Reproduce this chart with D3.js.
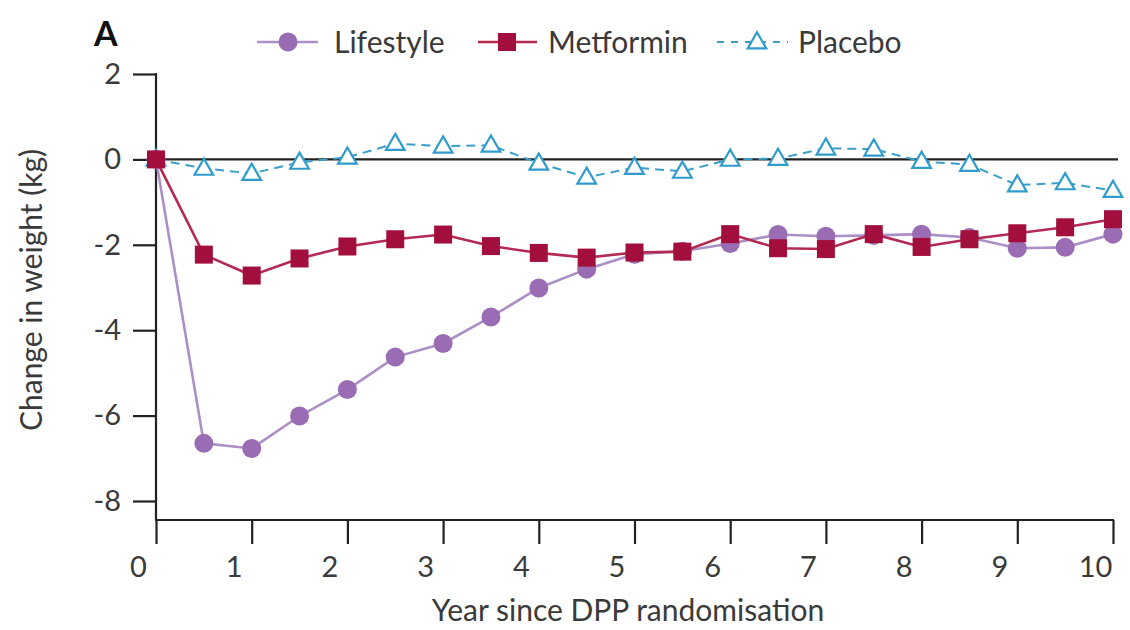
<!DOCTYPE html>
<html>
<head>
<meta charset="utf-8">
<script src="https://cdn.jsdelivr.net/npm/d3@7"></script>
<style>
  body { margin: 0; background: #fff; }
  text { font-family: "Lato", "Open Sans", sans-serif; fill: #3a3a3a; }
</style>
</head>
<body>
<script>
var years = [0, 0.5, 1, 1.5, 2, 2.5, 3, 3.5, 4, 4.5, 5, 5.5, 6, 6.5, 7, 7.5, 8, 8.5, 9, 9.5, 10];
var lifestyle = [0, -6.65, -6.77, -6.01, -5.39, -4.63, -4.31, -3.69, -3.01, -2.57, -2.22, -2.15, -1.97, -1.76, -1.8, -1.78, -1.75, -1.83, -2.08, -2.06, -1.75];
var metformin = [0, -2.23, -2.72, -2.32, -2.04, -1.87, -1.76, -2.03, -2.19, -2.3, -2.18, -2.16, -1.75, -2.08, -2.1, -1.75, -2.05, -1.87, -1.73, -1.59, -1.4];
var placebo = [0, -0.21, -0.33, -0.07, 0.05, 0.37, 0.31, 0.33, -0.09, -0.42, -0.19, -0.28, 0.0, 0.02, 0.26, 0.24, -0.05, -0.12, -0.6, -0.55, -0.73];
var xTicks = [0, 1, 2, 3, 4, 5, 6, 7, 8, 9, 10];
var yTicks = [2, 0, -2, -4, -6, -8];
var seriesNames = ["Lifestyle", "Metformin", "Placebo"];

var svg = d3.select("body").append("svg").attr("width", 1130).attr("height", 630);

var x = d3.scaleLinear().domain([0, 10]).range([156, 1113]);
var y = d3.scaleLinear().domain([-8, 2]).range([501, 74]);
var axisY = 520;

// x axis
var gx = svg.append("g").attr("transform", "translate(0," + axisY + ")")
  .call(d3.axisBottom(x).tickValues(xTicks).tickSize(24).tickSizeOuter(0).tickPadding(12));
gx.select(".domain").attr("stroke", "#222").attr("stroke-width", 2.2).attr("d", "M" + (x(0) - 1) + ",0H" + (x(10) + 1));
gx.selectAll(".tick line").attr("stroke", "#222").attr("stroke-width", 2.2);
gx.selectAll(".tick text").attr("font-size", 29).attr("dx", -18).attr("fill", "#3a3a3a");

// y axis
var gy = svg.append("g").attr("transform", "translate(" + x(0) + ",0)")
  .call(d3.axisLeft(y).tickValues(yTicks).tickSize(23).tickSizeOuter(0).tickPadding(12)
    .tickFormat(function(d){ return d; }));
gy.select(".domain").attr("stroke", "#222").attr("stroke-width", 2.2).attr("d", "M0," + (y(2) - 1) + "V" + axisY);
gy.selectAll(".tick line").attr("stroke", "#222").attr("stroke-width", 2.2);
gy.selectAll(".tick text").attr("font-size", 29).attr("fill", "#3a3a3a");

// zero line
svg.append("line")
  .attr("x1", x(0)).attr("x2", x(10) + 5)
  .attr("y1", y(0)).attr("y2", y(0))
  .attr("stroke", "#222").attr("stroke-width", 2.2);

// titles
svg.append("text").attr("x", 94).attr("y", 46).attr("font-size", 34).attr("font-weight", "bold")
  .style("fill", "#111").text("A");
svg.append("text").attr("x", 628).attr("y", 621).attr("text-anchor", "middle")
  .attr("font-size", 30).text("Year since DPP randomisation");
svg.append("text").attr("transform", "translate(42,290) rotate(-90)")
  .attr("text-anchor", "middle").attr("font-size", 30).text("Change in weight (kg)");

var pts = function(vals){ return years.map(function(t, i){ return [t, vals[i]]; }); };
var line = d3.line().x(function(d){ return x(d[0]); }).y(function(d){ return y(d[1]); });

// placebo
svg.append("path").datum(pts(placebo)).attr("d", line)
  .attr("fill", "none").attr("stroke", "#3a9fc8").attr("stroke-width", 2).attr("stroke-dasharray", "9,6");
var tri = d3.symbol().type(d3.symbolTriangle).size(150);
svg.selectAll("path.pl").data(pts(placebo)).enter().append("path").attr("class", "pl")
  .attr("d", tri)
  .attr("transform", function(d){ return "translate(" + x(d[0]) + "," + (y(d[1]) + 1) + ")"; })
  .attr("fill", "#fff").attr("stroke", "#2f9ccb").attr("stroke-width", 2.2);

// lifestyle
svg.append("path").datum(pts(lifestyle)).attr("d", line)
  .attr("fill", "none").attr("stroke", "#ab8fc6").attr("stroke-width", 2.6);
svg.selectAll("circle.ls").data(pts(lifestyle)).enter().append("circle").attr("class", "ls")
  .attr("cx", function(d){ return x(d[0]); }).attr("cy", function(d){ return y(d[1]); })
  .attr("r", 9.5).attr("fill", "#9a6cb3");

// metformin
svg.append("path").datum(pts(metformin)).attr("d", line)
  .attr("fill", "none").attr("stroke", "#b22a52").attr("stroke-width", 2.6);
svg.selectAll("rect.mf").data(pts(metformin)).enter().append("rect").attr("class", "mf")
  .attr("x", function(d){ return x(d[0]) - 9; }).attr("y", function(d){ return y(d[1]) - 9; })
  .attr("width", 18).attr("height", 18).attr("fill", "#a30f3c");

// legend
var ly = 42;
var lg = svg.append("g");
lg.append("line").attr("x1", 257).attr("x2", 318).attr("y1", ly).attr("y2", ly).attr("stroke", "#ab8fc6").attr("stroke-width", 2.6);
lg.append("circle").attr("cx", 288).attr("cy", ly).attr("r", 9.5).attr("fill", "#9a6cb3");
lg.append("text").attr("x", 334).attr("y", ly + 11).attr("font-size", 30).text(seriesNames[0]);

lg.append("line").attr("x1", 478).attr("x2", 537).attr("y1", ly).attr("y2", ly).attr("stroke", "#b22a52").attr("stroke-width", 2.6);
lg.append("rect").attr("x", 498).attr("y", ly - 9).attr("width", 18).attr("height", 18).attr("fill", "#a30f3c");
lg.append("text").attr("x", 548).attr("y", ly + 11).attr("font-size", 30).text(seriesNames[1]);

lg.append("line").attr("x1", 717).attr("x2", 788).attr("y1", ly).attr("y2", ly).attr("stroke", "#3a9fc8").attr("stroke-width", 2).attr("stroke-dasharray", "7,7");
lg.append("path").attr("d", tri).attr("transform", "translate(757," + (ly + 1) + ")")
  .attr("fill", "#fff").attr("stroke", "#2f9ccb").attr("stroke-width", 2.2);
lg.append("text").attr("x", 798).attr("y", ly + 11).attr("font-size", 30).text(seriesNames[2]);
</script>
</body>
</html>
